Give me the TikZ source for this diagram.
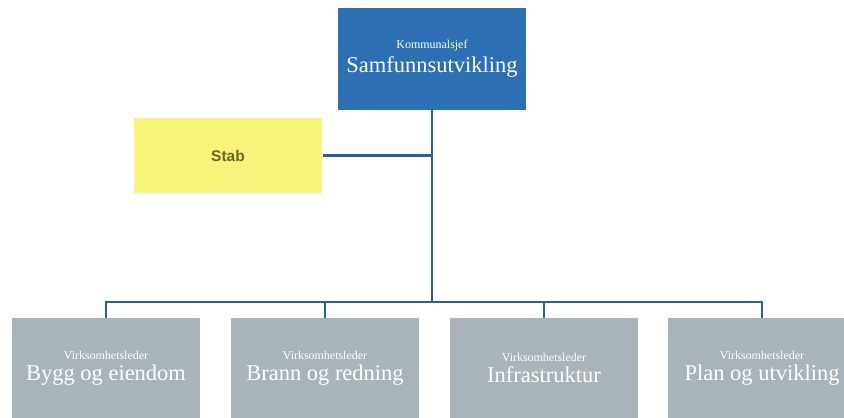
\documentclass[tikz,border=0pt]{standalone}
\usepackage{fontspec}
\setmainfont{Liberation Serif}
\setsansfont{Liberation Sans}

\definecolor{sjefblue}{HTML}{2C6FB2}
\definecolor{stabyellow}{HTML}{F9F47C}
\definecolor{stabtext}{HTML}{6A6820}
\definecolor{ledergray}{HTML}{A9B4BA}
\definecolor{linjeblue}{HTML}{2B5F96}

\tikzset{
  boks/.style={rectangle, minimum width=4.72cm, align=center, inner sep=0pt},
  sjef/.style={boks, fill=sjefblue, minimum height=2.55cm, text=white},
  stabboks/.style={boks, fill=stabyellow, minimum height=1.87cm, text=stabtext,
    font=\sffamily\bfseries\fontsize{11}{13}\selectfont},
  leder/.style={boks, fill=ledergray, minimum height=2.5cm, text=white},
  linje/.style={draw=linjeblue, line width=1.6pt}
}

\newcommand{\tolinjer}[2]{{\fontsize{8.5}{10}\selectfont #1}\\[3pt]{\fontsize{16}{18}\selectfont #2}}

\begin{document}
\begin{tikzpicture}[x=0.025cm, y=-0.025cm]
    \useasboundingbox (0,0) rectangle (844,417);

    % Kommunalsjef og stab
    \node[sjef] (sjef) at (432,59) {\tolinjer{Kommunalsjef}{Samfunnsutvikling}};
    \node[stabboks] (stab) at (228,155.5) {Stab};

    % Virksomhetsledere
    \node[leder] (bygg)  at (106,368) {\tolinjer{Virksomhetsleder}{Bygg og eiendom}};
    \node[leder] (brann) at (325,368) {\tolinjer{Virksomhetsleder}{Brann og redning}};
    \node[leder] (infra) at (544,368) {\tolinjer{Virksomhetsleder}{Infrastruktur}};
    \node[leder] (plan)  at (762,368) {\tolinjer{Virksomhetsleder}{Plan og utvikling}};

    % Linjer
    \coordinate (buss) at (432,302);
    \draw[linje] (sjef.south) -- (buss);
    \draw[linje] (stab.east) -- (stab.east -| sjef.south);
    \foreach \n in {bygg,brann,infra,plan}
        \draw[linje] (buss) -| (\n.north);
\end{tikzpicture}
\end{document}
